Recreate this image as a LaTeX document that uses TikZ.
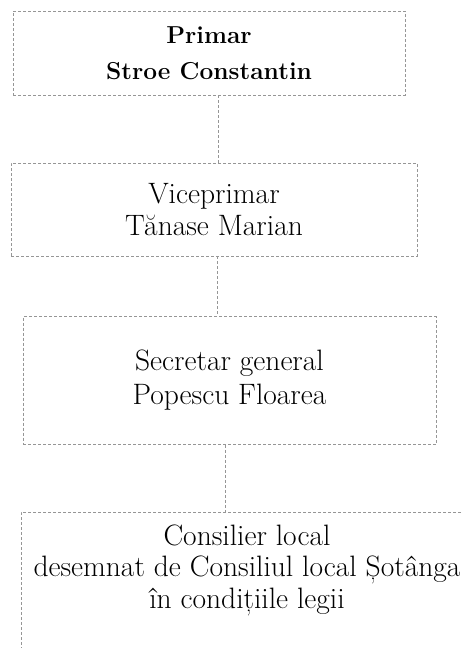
\documentclass[tikz,border=0pt]{standalone}
\usepackage{tikz}
\usetikzlibrary{positioning}
\definecolor{framegray}{RGB}{150,150,150}

\begin{document}
\begin{tikzpicture}[
    x=1pt, y=1pt,
    box/.style={rectangle, draw=framegray, densely dashed, line width=0.6pt, align=center, inner sep=0pt, font=\fontsize{29.5}{34}\selectfont},
    link/.style={draw=framegray, densely dashed, line width=0.6pt}
]
    \useasboundingbox (0,0) rectangle (461,-648);
    \clip (0,0) rectangle (461,-648);

    \node[box, minimum width=392pt, minimum height=84pt, font=\fontsize{24.5}{36}\selectfont\bfseries] (primar) at (209,-53) {Primar\\Stroe Constantin};
    \node[box, minimum width=406pt, minimum height=93pt, font=\fontsize{29.5}{32}\selectfont] (vice) at (214,-209.5) {Viceprimar\\Tănase Marian};
    \node[box, minimum width=413pt, minimum height=128pt] (secretar) at (229.5,-380.5) {Secretar general\\Popescu Floarea};
    \node[box, minimum width=452pt, text height=96pt, text depth=150pt, anchor=north, font=\fontsize{29.5}{31.5}\selectfont] (consilier) at (247,-512) {Consilier local\\desemnat de Consiliul local Șotânga\\în condițiile legii};

    \draw[link] ([xshift=9pt]primar.south) -- ([xshift=9pt]primar.south |- vice.north);
    \draw[link] ([xshift=3pt]vice.south) -- ([xshift=3pt]vice.south |- secretar.north);
    \draw[link] ([xshift=-4.5pt]secretar.south) -- ([xshift=-4.5pt]secretar.south |- consilier.north);
\end{tikzpicture}
\end{document}
